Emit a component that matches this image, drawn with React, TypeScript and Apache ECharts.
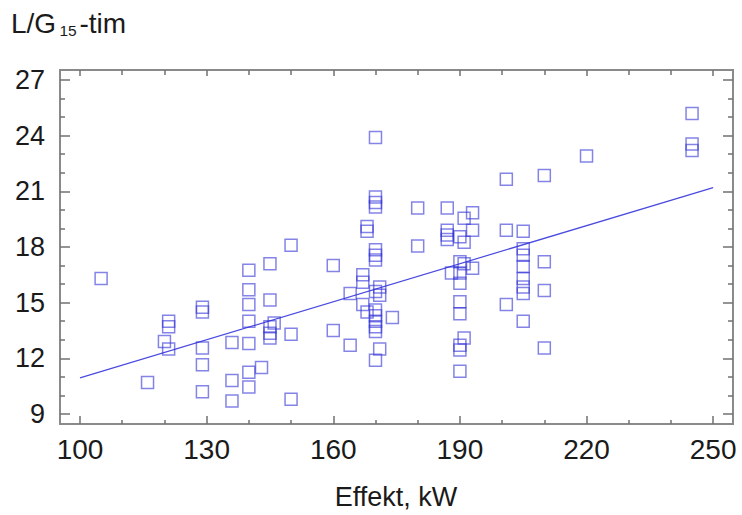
import React, { useEffect, useRef } from "react";
import * as echarts from "echarts";

const powerKW = [
  105, 116, 120, 121, 121, 121, 129, 129, 129, 129, 129, 136, 136, 136,
  140, 140, 140, 140, 140, 140, 140, 143, 145, 145, 145, 145, 145, 146,
  150, 150, 150, 160, 160, 164, 164, 167, 167, 167, 168, 168, 168,
  170, 170, 170, 170, 170, 170, 170, 170, 171, 171, 170, 170, 170, 170, 170, 171, 170, 174,
  180, 180, 187, 187, 187, 187, 191, 193, 193, 190, 191, 190, 191, 188, 190, 190, 193,
  190, 190, 191, 190, 190, 190,
  201, 201, 201, 205, 205, 205, 205, 205, 205, 205, 205,
  210, 210, 210, 210, 220, 245, 245, 245,
];
const lgHours = [
  16.3, 10.7, 12.9, 12.5, 14.0, 13.7, 14.75, 14.5, 12.55, 11.65, 10.2, 12.85, 10.8, 9.7,
  16.75, 15.7, 14.9, 14.0, 12.8, 11.25, 10.45, 11.5, 17.1, 15.15, 13.1, 13.35, 13.7, 13.9,
  18.1, 13.3, 9.8, 17.0, 13.5, 15.5, 12.7, 16.5, 16.1, 14.9, 14.5, 19.1, 18.85,
  23.9, 20.7, 20.4, 20.15, 17.85, 17.55, 17.3, 15.6, 15.85, 15.4, 14.6, 14.3, 14.0, 13.7, 13.45, 12.5, 11.9, 14.2,
  20.1, 18.05, 20.1, 18.9, 18.65, 18.4, 19.55, 19.85, 18.9, 18.55, 18.25, 17.2, 17.1, 16.6, 16.6, 16.05, 16.85,
  15.05, 14.4, 13.1, 12.7, 12.45, 11.3,
  21.65, 18.9, 14.9, 18.85, 17.9, 17.55, 16.95, 16.3, 15.85, 15.5, 14.0,
  21.85, 17.2, 15.65, 12.55, 22.9, 25.2, 23.55, 23.2,
];

const fitX = [100, 250];
const fitY = [10.95, 21.2];

const xMajorTicks = [100, 130, 160, 190, 220, 250];
const xMinorTicks = [110, 120, 140, 150, 170, 180, 200, 210, 230, 240];
const yMajorTicks = [9, 12, 15, 18, 21, 24, 27];
const yMinorTicks = [10, 11, 13, 14, 16, 17, 19, 20, 22, 23, 25, 26];

const X_MIN = 95.26;
const X_MAX = 254.7;
const Y_MIN = 8.46;
const Y_MAX = 27.54;

const FONT = "'Liberation Sans', Arial, sans-serif";
const TEXT = "#1a1a1a";

function xAx(position: string, ticks: number[], len: number, labels: boolean) {
  return {
    type: "value",
    position,
    min: X_MIN,
    max: X_MAX,
    axisLine: { show: false },
    splitLine: { show: false },
    axisTick: {
      show: true,
      inside: true,
      length: len,
      customValues: ticks,
      lineStyle: { color: "#707070", width: 1.5 },
    },
    axisLabel: labels
      ? {
          show: true,
          customValues: ticks,
          fontSize: 28,
          fontFamily: FONT,
          color: TEXT,
          margin: 11,
        }
      : { show: false },
  };
}

function yAx(position: string, ticks: number[], len: number, labels: boolean) {
  return {
    type: "value",
    position,
    min: Y_MIN,
    max: Y_MAX,
    axisLine: { show: false },
    splitLine: { show: false },
    axisTick: {
      show: true,
      inside: true,
      length: len,
      customValues: ticks,
      lineStyle: { color: "#707070", width: 1.5 },
    },
    axisLabel: labels
      ? {
          show: true,
          customValues: ticks,
          fontSize: 27,
          fontFamily: FONT,
          color: TEXT,
          margin: 15,
        }
      : { show: false },
  };
}

export default function App() {
  const ref = useRef<HTMLDivElement>(null);
  useEffect(() => {
    document.body.style.margin = "0";
    if (!ref.current) return;
    const chart = echarts.init(ref.current, null, { renderer: "svg" });
    const points = powerKW.map((x, i) => [x, lgHours[i]]);
    const fit = fitX.map((x, i) => [x, fitY[i]]);
    chart.setOption({
      animation: false,
      backgroundColor: "#ffffff",
      grid: {
        left: 60,
        right: 9,
        top: 70,
        bottom: 91,
        show: true,
        borderColor: "#8a8a8a",
        borderWidth: 2,
        backgroundColor: "transparent",
      },
      xAxis: [
        xAx("bottom", xMajorTicks, 8, true),
        xAx("bottom", xMinorTicks, 4, false),
        xAx("top", xMajorTicks, 6, false),
        xAx("top", xMinorTicks, 5, false),
      ],
      yAxis: [
        yAx("left", yMajorTicks, 10, true),
        yAx("left", yMinorTicks, 5, false),
        yAx("right", yMajorTicks, 10, false),
        yAx("right", yMinorTicks, 5, false),
      ],
      graphic: [
        {
          type: "text",
          x: 11,
          y: 23.5,
          style: {
            text: "L/G",
            fontSize: 28,
            fontFamily: FONT,
            fill: TEXT,
            verticalAlign: "middle",
          },
        },
        {
          type: "text",
          x: 59.5,
          y: 30.5,
          style: {
            text: "15",
            fontSize: 15.5,
            fontFamily: FONT,
            fill: TEXT,
            verticalAlign: "middle",
          },
        },
        {
          type: "text",
          x: 79.5,
          y: 23.5,
          style: {
            text: "-tim",
            fontSize: 28,
            fontFamily: FONT,
            fill: TEXT,
            verticalAlign: "middle",
          },
        },
        {
          type: "text",
          x: 396,
          y: 497,
          style: {
            text: "Effekt, kW",
            fontSize: 27,
            fontFamily: FONT,
            fill: TEXT,
            align: "center",
            verticalAlign: "middle",
          },
        },
      ],
      series: [
        {
          type: "scatter",
          data: points,
          symbol: "rect",
          symbolSize: 12,
          itemStyle: {
            color: "rgba(0,0,0,0)",
            borderColor: "rgba(50,50,215,0.75)",
            borderWidth: 1.5,
          },
          z: 3,
        },
        {
          type: "line",
          data: fit,
          symbol: "none",
          lineStyle: { color: "#4a4ae0", width: 1.2 },
          z: 2,
        },
      ],
    });
    return () => chart.dispose();
  }, []);
  return <div ref={ref} style={{ width: 742, height: 515 }} />;
}
